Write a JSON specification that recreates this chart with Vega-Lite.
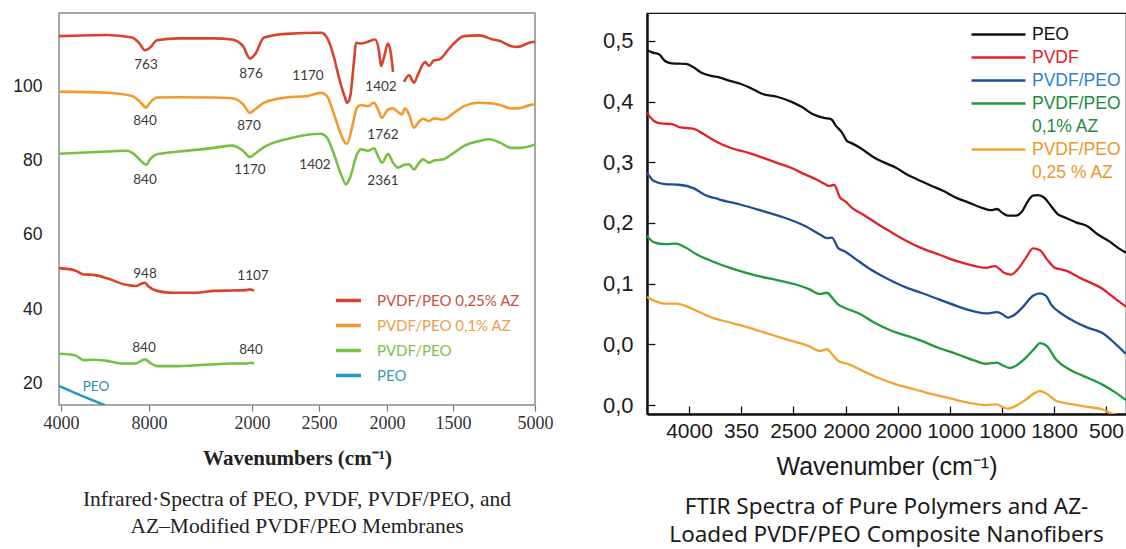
{
  "$schema": "https://vega.github.io/schema/vega-lite/v6.json",
  "background": "white",
  "padding": {"left": 12, "top": 12, "right": 0, "bottom": 0},
  "spacing": 112,
  "bounds": "flush",
  "config": {"view": {"stroke": null}, "legend": {"padding": 0}},
  "resolve": {"scale": {"color": "independent", "x": "independent", "y": "independent"}, "legend": {"color": "independent"}},
  "datasets": {
    "left": [
      {"x":0,"v":113.4,"s":"PVDF/PEO 0,25% AZ","g":"r1"},{"x":48,"v":113.7,"s":"PVDF/PEO 0,25% AZ","g":"r1"},{"x":73,"v":113.0,"s":"PVDF/PEO 0,25% AZ","g":"r1"},{"x":80,"v":111.6,"s":"PVDF/PEO 0,25% AZ","g":"r1"},{"x":86,"v":109.6,"s":"PVDF/PEO 0,25% AZ","g":"r1"},{"x":91,"v":110.3,"s":"PVDF/PEO 0,25% AZ","g":"r1"},{"x":98,"v":112.3,"s":"PVDF/PEO 0,25% AZ","g":"r1"},{"x":120,"v":112.8,"s":"PVDF/PEO 0,25% AZ","g":"r1"},{"x":155,"v":112.8,"s":"PVDF/PEO 0,25% AZ","g":"r1"},{"x":173,"v":112.5,"s":"PVDF/PEO 0,25% AZ","g":"r1"},{"x":184,"v":110.7,"s":"PVDF/PEO 0,25% AZ","g":"r1"},{"x":191,"v":107.4,"s":"PVDF/PEO 0,25% AZ","g":"r1"},{"x":196,"v":108.5,"s":"PVDF/PEO 0,25% AZ","g":"r1"},{"x":205,"v":113.0,"s":"PVDF/PEO 0,25% AZ","g":"r1"},{"x":227,"v":114.0,"s":"PVDF/PEO 0,25% AZ","g":"r1"},{"x":262,"v":114.3,"s":"PVDF/PEO 0,25% AZ","g":"r1"},{"x":268,"v":113.0,"s":"PVDF/PEO 0,25% AZ","g":"r1"},{"x":275,"v":107.7,"s":"PVDF/PEO 0,25% AZ","g":"r1"},{"x":280,"v":102.2,"s":"PVDF/PEO 0,25% AZ","g":"r1"},{"x":286,"v":96.9,"s":"PVDF/PEO 0,25% AZ","g":"r1"},{"x":288,"v":95.5,"s":"PVDF/PEO 0,25% AZ","g":"r1"},{"x":291,"v":96.9,"s":"PVDF/PEO 0,25% AZ","g":"r1"},{"x":295,"v":106.7,"s":"PVDF/PEO 0,25% AZ","g":"r1"},{"x":297,"v":111.6,"s":"PVDF/PEO 0,25% AZ","g":"r1"},{"x":302,"v":111.4,"s":"PVDF/PEO 0,25% AZ","g":"r1"},{"x":309,"v":111.9,"s":"PVDF/PEO 0,25% AZ","g":"r1"},{"x":316,"v":112.5,"s":"PVDF/PEO 0,25% AZ","g":"r1"},{"x":320,"v":109.4,"s":"PVDF/PEO 0,25% AZ","g":"r1"},{"x":322,"v":105.4,"s":"PVDF/PEO 0,25% AZ","g":"r1"},{"x":325,"v":107.7,"s":"PVDF/PEO 0,25% AZ","g":"r1"},{"x":329,"v":111.4,"s":"PVDF/PEO 0,25% AZ","g":"r1"},{"x":332,"v":108.5,"s":"PVDF/PEO 0,25% AZ","g":"r1"},{"x":334,"v":103.8,"s":"PVDF/PEO 0,25% AZ","g":"r1"},
      {"x":345,"v":101.1,"s":"PVDF/PEO 0,25% AZ","g":"r2"},{"x":350,"v":102.9,"s":"PVDF/PEO 0,25% AZ","g":"r2"},{"x":355,"v":100.9,"s":"PVDF/PEO 0,25% AZ","g":"r2"},{"x":359,"v":103.1,"s":"PVDF/PEO 0,25% AZ","g":"r2"},{"x":366,"v":106.4,"s":"PVDF/PEO 0,25% AZ","g":"r2"},{"x":370,"v":105.4,"s":"PVDF/PEO 0,25% AZ","g":"r2"},{"x":375,"v":106.9,"s":"PVDF/PEO 0,25% AZ","g":"r2"},{"x":380,"v":107.1,"s":"PVDF/PEO 0,25% AZ","g":"r2"},{"x":391,"v":110.3,"s":"PVDF/PEO 0,25% AZ","g":"r2"},{"x":405,"v":113.4,"s":"PVDF/PEO 0,25% AZ","g":"r2"},{"x":420,"v":113.6,"s":"PVDF/PEO 0,25% AZ","g":"r2"},{"x":434,"v":112.5,"s":"PVDF/PEO 0,25% AZ","g":"r2"},{"x":441,"v":112.1,"s":"PVDF/PEO 0,25% AZ","g":"r2"},{"x":452,"v":110.7,"s":"PVDF/PEO 0,25% AZ","g":"r2"},{"x":459,"v":110.5,"s":"PVDF/PEO 0,25% AZ","g":"r2"},{"x":470,"v":111.6,"s":"PVDF/PEO 0,25% AZ","g":"r2"},{"x":476,"v":111.9,"s":"PVDF/PEO 0,25% AZ","g":"r2"},
      {"x":0,"v":51.1,"s":"PVDF/PEO 0,25% AZ","g":"r3"},{"x":16,"v":50.5,"s":"PVDF/PEO 0,25% AZ","g":"r3"},{"x":25,"v":49.4,"s":"PVDF/PEO 0,25% AZ","g":"r3"},{"x":34,"v":49.3,"s":"PVDF/PEO 0,25% AZ","g":"r3"},{"x":48,"v":48.4,"s":"PVDF/PEO 0,25% AZ","g":"r3"},{"x":66,"v":46.7,"s":"PVDF/PEO 0,25% AZ","g":"r3"},{"x":77,"v":46.3,"s":"PVDF/PEO 0,25% AZ","g":"r3"},{"x":82,"v":46.9,"s":"PVDF/PEO 0,25% AZ","g":"r3"},{"x":86,"v":47.2,"s":"PVDF/PEO 0,25% AZ","g":"r3"},{"x":89,"v":46.3,"s":"PVDF/PEO 0,25% AZ","g":"r3"},{"x":98,"v":45.0,"s":"PVDF/PEO 0,25% AZ","g":"r3"},{"x":112,"v":44.5,"s":"PVDF/PEO 0,25% AZ","g":"r3"},{"x":137,"v":44.5,"s":"PVDF/PEO 0,25% AZ","g":"r3"},{"x":155,"v":45.0,"s":"PVDF/PEO 0,25% AZ","g":"r3"},{"x":173,"v":45.1,"s":"PVDF/PEO 0,25% AZ","g":"r3"},{"x":187,"v":45.2,"s":"PVDF/PEO 0,25% AZ","g":"r3"},{"x":191,"v":45.4,"s":"PVDF/PEO 0,25% AZ","g":"r3"},{"x":195,"v":45.0,"s":"PVDF/PEO 0,25% AZ","g":"r3"},
      {"x":0,"v":98.5,"s":"PVDF/PEO 0,1% AZ","g":"o1"},{"x":48,"v":98.2,"s":"PVDF/PEO 0,1% AZ","g":"o1"},{"x":73,"v":97.3,"s":"PVDF/PEO 0,1% AZ","g":"o1"},{"x":82,"v":95.5,"s":"PVDF/PEO 0,1% AZ","g":"o1"},{"x":87,"v":94.2,"s":"PVDF/PEO 0,1% AZ","g":"o1"},{"x":91,"v":95.5,"s":"PVDF/PEO 0,1% AZ","g":"o1"},{"x":98,"v":96.9,"s":"PVDF/PEO 0,1% AZ","g":"o1"},{"x":120,"v":97.0,"s":"PVDF/PEO 0,1% AZ","g":"o1"},{"x":155,"v":96.9,"s":"PVDF/PEO 0,1% AZ","g":"o1"},{"x":173,"v":96.7,"s":"PVDF/PEO 0,1% AZ","g":"o1"},{"x":184,"v":95.1,"s":"PVDF/PEO 0,1% AZ","g":"o1"},{"x":191,"v":92.8,"s":"PVDF/PEO 0,1% AZ","g":"o1"},{"x":196,"v":93.7,"s":"PVDF/PEO 0,1% AZ","g":"o1"},{"x":205,"v":95.5,"s":"PVDF/PEO 0,1% AZ","g":"o1"},{"x":227,"v":96.9,"s":"PVDF/PEO 0,1% AZ","g":"o1"},{"x":248,"v":97.3,"s":"PVDF/PEO 0,1% AZ","g":"o1"},{"x":262,"v":98.2,"s":"PVDF/PEO 0,1% AZ","g":"o1"},{"x":268,"v":97.3,"s":"PVDF/PEO 0,1% AZ","g":"o1"},{"x":275,"v":92.4,"s":"PVDF/PEO 0,1% AZ","g":"o1"},{"x":282,"v":87.0,"s":"PVDF/PEO 0,1% AZ","g":"o1"},{"x":286,"v":84.8,"s":"PVDF/PEO 0,1% AZ","g":"o1"},{"x":288,"v":84.5,"s":"PVDF/PEO 0,1% AZ","g":"o1"},{"x":293,"v":88.8,"s":"PVDF/PEO 0,1% AZ","g":"o1"},{"x":298,"v":94.2,"s":"PVDF/PEO 0,1% AZ","g":"o1"},{"x":302,"v":94.9,"s":"PVDF/PEO 0,1% AZ","g":"o1"},{"x":309,"v":94.6,"s":"PVDF/PEO 0,1% AZ","g":"o1"},{"x":315,"v":95.5,"s":"PVDF/PEO 0,1% AZ","g":"o1"},{"x":319,"v":93.7,"s":"PVDF/PEO 0,1% AZ","g":"o1"},{"x":323,"v":91.5,"s":"PVDF/PEO 0,1% AZ","g":"o1"},{"x":329,"v":93.7,"s":"PVDF/PEO 0,1% AZ","g":"o1"},{"x":334,"v":94.0,"s":"PVDF/PEO 0,1% AZ","g":"o1"},{"x":339,"v":93.0,"s":"PVDF/PEO 0,1% AZ","g":"o1"},{"x":343,"v":92.4,"s":"PVDF/PEO 0,1% AZ","g":"o1"},{"x":346,"v":94.0,"s":"PVDF/PEO 0,1% AZ","g":"o1"},{"x":350,"v":92.4,"s":"PVDF/PEO 0,1% AZ","g":"o1"},{"x":355,"v":88.8,"s":"PVDF/PEO 0,1% AZ","g":"o1"},{"x":359,"v":90.1,"s":"PVDF/PEO 0,1% AZ","g":"o1"},{"x":364,"v":91.2,"s":"PVDF/PEO 0,1% AZ","g":"o1"},{"x":370,"v":90.6,"s":"PVDF/PEO 0,1% AZ","g":"o1"},{"x":375,"v":91.3,"s":"PVDF/PEO 0,1% AZ","g":"o1"},{"x":384,"v":91.0,"s":"PVDF/PEO 0,1% AZ","g":"o1"},{"x":395,"v":92.8,"s":"PVDF/PEO 0,1% AZ","g":"o1"},{"x":405,"v":94.6,"s":"PVDF/PEO 0,1% AZ","g":"o1"},{"x":420,"v":95.5,"s":"PVDF/PEO 0,1% AZ","g":"o1"},{"x":434,"v":95.3,"s":"PVDF/PEO 0,1% AZ","g":"o1"},{"x":441,"v":94.9,"s":"PVDF/PEO 0,1% AZ","g":"o1"},{"x":452,"v":94.0,"s":"PVDF/PEO 0,1% AZ","g":"o1"},{"x":459,"v":94.0,"s":"PVDF/PEO 0,1% AZ","g":"o1"},{"x":470,"v":94.8,"s":"PVDF/PEO 0,1% AZ","g":"o1"},{"x":476,"v":95.1,"s":"PVDF/PEO 0,1% AZ","g":"o1"},
      {"x":0,"v":81.8,"s":"PVDF/PEO","g":"g1"},{"x":48,"v":82.4,"s":"PVDF/PEO","g":"g1"},{"x":68,"v":82.6,"s":"PVDF/PEO","g":"g1"},{"x":75,"v":81.7,"s":"PVDF/PEO","g":"g1"},{"x":82,"v":79.9,"s":"PVDF/PEO","g":"g1"},{"x":87,"v":78.8,"s":"PVDF/PEO","g":"g1"},{"x":91,"v":80.3,"s":"PVDF/PEO","g":"g1"},{"x":98,"v":81.7,"s":"PVDF/PEO","g":"g1"},{"x":120,"v":82.4,"s":"PVDF/PEO","g":"g1"},{"x":155,"v":83.4,"s":"PVDF/PEO","g":"g1"},{"x":173,"v":84.0,"s":"PVDF/PEO","g":"g1"},{"x":184,"v":82.6,"s":"PVDF/PEO","g":"g1"},{"x":191,"v":80.9,"s":"PVDF/PEO","g":"g1"},{"x":196,"v":81.8,"s":"PVDF/PEO","g":"g1"},{"x":205,"v":83.6,"s":"PVDF/PEO","g":"g1"},{"x":227,"v":85.7,"s":"PVDF/PEO","g":"g1"},{"x":245,"v":86.8,"s":"PVDF/PEO","g":"g1"},{"x":262,"v":87.2,"s":"PVDF/PEO","g":"g1"},{"x":268,"v":86.1,"s":"PVDF/PEO","g":"g1"},{"x":275,"v":81.7,"s":"PVDF/PEO","g":"g1"},{"x":282,"v":76.3,"s":"PVDF/PEO","g":"g1"},{"x":287,"v":73.6,"s":"PVDF/PEO","g":"g1"},{"x":291,"v":75.4,"s":"PVDF/PEO","g":"g1"},{"x":298,"v":81.7,"s":"PVDF/PEO","g":"g1"},{"x":302,"v":83.0,"s":"PVDF/PEO","g":"g1"},{"x":309,"v":82.6,"s":"PVDF/PEO","g":"g1"},{"x":315,"v":83.3,"s":"PVDF/PEO","g":"g1"},{"x":319,"v":81.2,"s":"PVDF/PEO","g":"g1"},{"x":323,"v":79.4,"s":"PVDF/PEO","g":"g1"},{"x":329,"v":81.7,"s":"PVDF/PEO","g":"g1"},{"x":334,"v":79.4,"s":"PVDF/PEO","g":"g1"},{"x":339,"v":78.1,"s":"PVDF/PEO","g":"g1"},{"x":345,"v":78.8,"s":"PVDF/PEO","g":"g1"},{"x":350,"v":79.0,"s":"PVDF/PEO","g":"g1"},{"x":355,"v":77.6,"s":"PVDF/PEO","g":"g1"},{"x":359,"v":79.0,"s":"PVDF/PEO","g":"g1"},{"x":364,"v":80.3,"s":"PVDF/PEO","g":"g1"},{"x":370,"v":79.4,"s":"PVDF/PEO","g":"g1"},{"x":375,"v":80.0,"s":"PVDF/PEO","g":"g1"},{"x":384,"v":80.3,"s":"PVDF/PEO","g":"g1"},{"x":395,"v":82.1,"s":"PVDF/PEO","g":"g1"},{"x":405,"v":83.9,"s":"PVDF/PEO","g":"g1"},{"x":420,"v":85.2,"s":"PVDF/PEO","g":"g1"},{"x":430,"v":85.7,"s":"PVDF/PEO","g":"g1"},{"x":441,"v":84.8,"s":"PVDF/PEO","g":"g1"},{"x":452,"v":83.4,"s":"PVDF/PEO","g":"g1"},{"x":462,"v":83.4,"s":"PVDF/PEO","g":"g1"},{"x":476,"v":84.3,"s":"PVDF/PEO","g":"g1"},
      {"x":0,"v":28.1,"s":"PVDF/PEO","g":"g2"},{"x":16,"v":27.7,"s":"PVDF/PEO","g":"g2"},{"x":25,"v":26.4,"s":"PVDF/PEO","g":"g2"},{"x":34,"v":26.5,"s":"PVDF/PEO","g":"g2"},{"x":48,"v":26.2,"s":"PVDF/PEO","g":"g2"},{"x":62,"v":25.5,"s":"PVDF/PEO","g":"g2"},{"x":77,"v":25.5,"s":"PVDF/PEO","g":"g2"},{"x":82,"v":26.2,"s":"PVDF/PEO","g":"g2"},{"x":86,"v":26.6,"s":"PVDF/PEO","g":"g2"},{"x":91,"v":25.7,"s":"PVDF/PEO","g":"g2"},{"x":98,"v":24.8,"s":"PVDF/PEO","g":"g2"},{"x":120,"v":24.8,"s":"PVDF/PEO","g":"g2"},{"x":155,"v":25.3,"s":"PVDF/PEO","g":"g2"},{"x":173,"v":25.5,"s":"PVDF/PEO","g":"g2"},{"x":187,"v":25.5,"s":"PVDF/PEO","g":"g2"},{"x":191,"v":25.7,"s":"PVDF/PEO","g":"g2"},{"x":195,"v":25.5,"s":"PVDF/PEO","g":"g2"},
      {"x":0,"v":19.5,"s":"PEO","g":"p1"},{"x":23,"v":16.8,"s":"PEO","g":"p1"},{"x":46,"v":14.3,"s":"PEO","g":"p1"}
    ],
    "leftlab": [
      {"x":87,"v":105.6,"t":"763"},{"x":192,"v":103.3,"t":"876"},{"x":249,"v":102.7,"t":"1170"},{"x":322,"v":99.7,"t":"1402"},
      {"x":86,"v":90.6,"t":"840"},{"x":190,"v":89.3,"t":"870"},{"x":324,"v":86.8,"t":"1762"},
      {"x":86,"v":74.8,"t":"840"},{"x":191,"v":77.4,"t":"1170"},{"x":256,"v":78.8,"t":"1402"},{"x":324,"v":74.5,"t":"2361"},
      {"x":86,"v":49.6,"t":"948"},{"x":194,"v":49.0,"t":"1107"},
      {"x":85,"v":29.6,"t":"840"},{"x":192,"v":29.0,"t":"840"},
      {"x":37,"v":19.2,"t":"PEO"}
    ],
    "right": [
      {"x":0,"v":0.485,"s":"PEO"},{"x":5,"v":0.481,"s":"PEO"},{"x":12,"v":0.478,"s":"PEO"},{"x":18,"v":0.467,"s":"PEO"},{"x":25,"v":0.463,"s":"PEO"},{"x":39,"v":0.462,"s":"PEO"},{"x":47,"v":0.456,"s":"PEO"},{"x":54,"v":0.448,"s":"PEO"},{"x":65,"v":0.442,"s":"PEO"},{"x":72,"v":0.440,"s":"PEO"},{"x":83,"v":0.434,"s":"PEO"},{"x":94,"v":0.429,"s":"PEO"},{"x":104,"v":0.422,"s":"PEO"},{"x":115,"v":0.413,"s":"PEO"},{"x":130,"v":0.408,"s":"PEO"},{"x":144,"v":0.400,"s":"PEO"},{"x":155,"v":0.391,"s":"PEO"},{"x":166,"v":0.379,"s":"PEO"},{"x":177,"v":0.373,"s":"PEO"},{"x":184,"v":0.371,"s":"PEO"},{"x":189,"v":0.360,"s":"PEO"},{"x":195,"v":0.349,"s":"PEO"},{"x":200,"v":0.335,"s":"PEO"},{"x":204,"v":0.332,"s":"PEO"},{"x":213,"v":0.324,"s":"PEO"},{"x":227,"v":0.308,"s":"PEO"},{"x":238,"v":0.299,"s":"PEO"},{"x":249,"v":0.291,"s":"PEO"},{"x":260,"v":0.280,"s":"PEO"},{"x":270,"v":0.272,"s":"PEO"},{"x":285,"v":0.261,"s":"PEO"},{"x":296,"v":0.253,"s":"PEO"},{"x":310,"v":0.241,"s":"PEO"},{"x":321,"v":0.234,"s":"PEO"},{"x":335,"v":0.225,"s":"PEO"},{"x":344,"v":0.221,"s":"PEO"},{"x":350,"v":0.223,"s":"PEO"},{"x":355,"v":0.217,"s":"PEO"},{"x":361,"v":0.212,"s":"PEO"},{"x":369,"v":0.212,"s":"PEO"},{"x":375,"v":0.219,"s":"PEO"},{"x":381,"v":0.236,"s":"PEO"},{"x":386,"v":0.245,"s":"PEO"},{"x":391,"v":0.246,"s":"PEO"},{"x":397,"v":0.242,"s":"PEO"},{"x":404,"v":0.228,"s":"PEO"},{"x":411,"v":0.214,"s":"PEO"},{"x":418,"v":0.209,"s":"PEO"},{"x":429,"v":0.201,"s":"PEO"},{"x":440,"v":0.195,"s":"PEO"},{"x":451,"v":0.181,"s":"PEO"},{"x":462,"v":0.170,"s":"PEO"},{"x":471,"v":0.159,"s":"PEO"},{"x":479,"v":0.151,"s":"PEO"},
      {"x":0,"v":0.382,"s":"PVDF"},{"x":7,"v":0.368,"s":"PVDF"},{"x":14,"v":0.364,"s":"PVDF"},{"x":25,"v":0.363,"s":"PVDF"},{"x":32,"v":0.358,"s":"PVDF"},{"x":47,"v":0.355,"s":"PVDF"},{"x":57,"v":0.346,"s":"PVDF"},{"x":68,"v":0.335,"s":"PVDF"},{"x":83,"v":0.324,"s":"PVDF"},{"x":101,"v":0.316,"s":"PVDF"},{"x":115,"v":0.308,"s":"PVDF"},{"x":130,"v":0.299,"s":"PVDF"},{"x":144,"v":0.291,"s":"PVDF"},{"x":158,"v":0.280,"s":"PVDF"},{"x":169,"v":0.272,"s":"PVDF"},{"x":177,"v":0.265,"s":"PVDF"},{"x":182,"v":0.261,"s":"PVDF"},{"x":187,"v":0.263,"s":"PVDF"},{"x":193,"v":0.242,"s":"PVDF"},{"x":198,"v":0.236,"s":"PVDF"},{"x":205,"v":0.225,"s":"PVDF"},{"x":216,"v":0.214,"s":"PVDF"},{"x":231,"v":0.198,"s":"PVDF"},{"x":242,"v":0.187,"s":"PVDF"},{"x":260,"v":0.170,"s":"PVDF"},{"x":274,"v":0.159,"s":"PVDF"},{"x":292,"v":0.148,"s":"PVDF"},{"x":310,"v":0.137,"s":"PVDF"},{"x":328,"v":0.129,"s":"PVDF"},{"x":339,"v":0.126,"s":"PVDF"},{"x":348,"v":0.129,"s":"PVDF"},{"x":357,"v":0.118,"s":"PVDF"},{"x":364,"v":0.115,"s":"PVDF"},{"x":371,"v":0.124,"s":"PVDF"},{"x":379,"v":0.143,"s":"PVDF"},{"x":386,"v":0.158,"s":"PVDF"},{"x":393,"v":0.155,"s":"PVDF"},{"x":400,"v":0.140,"s":"PVDF"},{"x":408,"v":0.126,"s":"PVDF"},{"x":418,"v":0.122,"s":"PVDF"},{"x":436,"v":0.107,"s":"PVDF"},{"x":455,"v":0.092,"s":"PVDF"},{"x":469,"v":0.074,"s":"PVDF"},{"x":479,"v":0.062,"s":"PVDF"},
      {"x":0,"v":0.283,"s":"PVDF/PEO"},{"x":7,"v":0.269,"s":"PVDF/PEO"},{"x":18,"v":0.264,"s":"PVDF/PEO"},{"x":32,"v":0.263,"s":"PVDF/PEO"},{"x":47,"v":0.257,"s":"PVDF/PEO"},{"x":57,"v":0.247,"s":"PVDF/PEO"},{"x":72,"v":0.239,"s":"PVDF/PEO"},{"x":94,"v":0.230,"s":"PVDF/PEO"},{"x":115,"v":0.220,"s":"PVDF/PEO"},{"x":137,"v":0.209,"s":"PVDF/PEO"},{"x":158,"v":0.195,"s":"PVDF/PEO"},{"x":173,"v":0.181,"s":"PVDF/PEO"},{"x":180,"v":0.175,"s":"PVDF/PEO"},{"x":185,"v":0.176,"s":"PVDF/PEO"},{"x":191,"v":0.159,"s":"PVDF/PEO"},{"x":198,"v":0.153,"s":"PVDF/PEO"},{"x":209,"v":0.140,"s":"PVDF/PEO"},{"x":223,"v":0.124,"s":"PVDF/PEO"},{"x":238,"v":0.110,"s":"PVDF/PEO"},{"x":260,"v":0.093,"s":"PVDF/PEO"},{"x":274,"v":0.085,"s":"PVDF/PEO"},{"x":292,"v":0.074,"s":"PVDF/PEO"},{"x":310,"v":0.063,"s":"PVDF/PEO"},{"x":328,"v":0.054,"s":"PVDF/PEO"},{"x":339,"v":0.051,"s":"PVDF/PEO"},{"x":350,"v":0.053,"s":"PVDF/PEO"},{"x":355,"v":0.050,"s":"PVDF/PEO"},{"x":361,"v":0.044,"s":"PVDF/PEO"},{"x":366,"v":0.047,"s":"PVDF/PEO"},{"x":375,"v":0.060,"s":"PVDF/PEO"},{"x":386,"v":0.080,"s":"PVDF/PEO"},{"x":393,"v":0.084,"s":"PVDF/PEO"},{"x":399,"v":0.080,"s":"PVDF/PEO"},{"x":404,"v":0.066,"s":"PVDF/PEO"},{"x":415,"v":0.050,"s":"PVDF/PEO"},{"x":426,"v":0.039,"s":"PVDF/PEO"},{"x":440,"v":0.028,"s":"PVDF/PEO"},{"x":455,"v":0.019,"s":"PVDF/PEO"},{"x":469,"v":0.000,"s":"PVDF/PEO"},{"x":479,"v":-0.016,"s":"PVDF/PEO"},
      {"x":0,"v":0.179,"s":"PVDF/PEO 0,1% AZ"},{"x":7,"v":0.168,"s":"PVDF/PEO 0,1% AZ"},{"x":18,"v":0.165,"s":"PVDF/PEO 0,1% AZ"},{"x":29,"v":0.166,"s":"PVDF/PEO 0,1% AZ"},{"x":39,"v":0.159,"s":"PVDF/PEO 0,1% AZ"},{"x":50,"v":0.148,"s":"PVDF/PEO 0,1% AZ"},{"x":65,"v":0.137,"s":"PVDF/PEO 0,1% AZ"},{"x":83,"v":0.126,"s":"PVDF/PEO 0,1% AZ"},{"x":101,"v":0.117,"s":"PVDF/PEO 0,1% AZ"},{"x":115,"v":0.111,"s":"PVDF/PEO 0,1% AZ"},{"x":130,"v":0.106,"s":"PVDF/PEO 0,1% AZ"},{"x":148,"v":0.099,"s":"PVDF/PEO 0,1% AZ"},{"x":162,"v":0.091,"s":"PVDF/PEO 0,1% AZ"},{"x":173,"v":0.083,"s":"PVDF/PEO 0,1% AZ"},{"x":180,"v":0.085,"s":"PVDF/PEO 0,1% AZ"},{"x":185,"v":0.077,"s":"PVDF/PEO 0,1% AZ"},{"x":191,"v":0.066,"s":"PVDF/PEO 0,1% AZ"},{"x":198,"v":0.060,"s":"PVDF/PEO 0,1% AZ"},{"x":213,"v":0.050,"s":"PVDF/PEO 0,1% AZ"},{"x":227,"v":0.036,"s":"PVDF/PEO 0,1% AZ"},{"x":245,"v":0.022,"s":"PVDF/PEO 0,1% AZ"},{"x":260,"v":0.014,"s":"PVDF/PEO 0,1% AZ"},{"x":274,"v":0.006,"s":"PVDF/PEO 0,1% AZ"},{"x":292,"v":-0.006,"s":"PVDF/PEO 0,1% AZ"},{"x":310,"v":-0.016,"s":"PVDF/PEO 0,1% AZ"},{"x":328,"v":-0.027,"s":"PVDF/PEO 0,1% AZ"},{"x":339,"v":-0.032,"s":"PVDF/PEO 0,1% AZ"},{"x":350,"v":-0.030,"s":"PVDF/PEO 0,1% AZ"},{"x":355,"v":-0.034,"s":"PVDF/PEO 0,1% AZ"},{"x":363,"v":-0.039,"s":"PVDF/PEO 0,1% AZ"},{"x":368,"v":-0.036,"s":"PVDF/PEO 0,1% AZ"},{"x":379,"v":-0.022,"s":"PVDF/PEO 0,1% AZ"},{"x":388,"v":-0.006,"s":"PVDF/PEO 0,1% AZ"},{"x":393,"v":0.002,"s":"PVDF/PEO 0,1% AZ"},{"x":400,"v":-0.003,"s":"PVDF/PEO 0,1% AZ"},{"x":409,"v":-0.025,"s":"PVDF/PEO 0,1% AZ"},{"x":422,"v":-0.041,"s":"PVDF/PEO 0,1% AZ"},{"x":436,"v":-0.052,"s":"PVDF/PEO 0,1% AZ"},{"x":455,"v":-0.066,"s":"PVDF/PEO 0,1% AZ"},{"x":469,"v":-0.080,"s":"PVDF/PEO 0,1% AZ"},{"x":479,"v":-0.092,"s":"PVDF/PEO 0,1% AZ"},
      {"x":0,"v":0.078,"s":"PVDF/PEO 0,25 % AZ"},{"x":7,"v":0.072,"s":"PVDF/PEO 0,25 % AZ"},{"x":18,"v":0.067,"s":"PVDF/PEO 0,25 % AZ"},{"x":29,"v":0.067,"s":"PVDF/PEO 0,25 % AZ"},{"x":39,"v":0.063,"s":"PVDF/PEO 0,25 % AZ"},{"x":50,"v":0.055,"s":"PVDF/PEO 0,25 % AZ"},{"x":65,"v":0.044,"s":"PVDF/PEO 0,25 % AZ"},{"x":83,"v":0.036,"s":"PVDF/PEO 0,25 % AZ"},{"x":101,"v":0.028,"s":"PVDF/PEO 0,25 % AZ"},{"x":122,"v":0.017,"s":"PVDF/PEO 0,25 % AZ"},{"x":144,"v":0.006,"s":"PVDF/PEO 0,25 % AZ"},{"x":162,"v":-0.003,"s":"PVDF/PEO 0,25 % AZ"},{"x":173,"v":-0.011,"s":"PVDF/PEO 0,25 % AZ"},{"x":180,"v":-0.008,"s":"PVDF/PEO 0,25 % AZ"},{"x":185,"v":-0.016,"s":"PVDF/PEO 0,25 % AZ"},{"x":191,"v":-0.027,"s":"PVDF/PEO 0,25 % AZ"},{"x":202,"v":-0.033,"s":"PVDF/PEO 0,25 % AZ"},{"x":216,"v":-0.044,"s":"PVDF/PEO 0,25 % AZ"},{"x":231,"v":-0.055,"s":"PVDF/PEO 0,25 % AZ"},{"x":249,"v":-0.066,"s":"PVDF/PEO 0,25 % AZ"},{"x":267,"v":-0.074,"s":"PVDF/PEO 0,25 % AZ"},{"x":285,"v":-0.082,"s":"PVDF/PEO 0,25 % AZ"},{"x":303,"v":-0.089,"s":"PVDF/PEO 0,25 % AZ"},{"x":321,"v":-0.096,"s":"PVDF/PEO 0,25 % AZ"},{"x":339,"v":-0.100,"s":"PVDF/PEO 0,25 % AZ"},{"x":350,"v":-0.099,"s":"PVDF/PEO 0,25 % AZ"},{"x":355,"v":-0.103,"s":"PVDF/PEO 0,25 % AZ"},{"x":361,"v":-0.106,"s":"PVDF/PEO 0,25 % AZ"},{"x":368,"v":-0.102,"s":"PVDF/PEO 0,25 % AZ"},{"x":379,"v":-0.091,"s":"PVDF/PEO 0,25 % AZ"},{"x":388,"v":-0.080,"s":"PVDF/PEO 0,25 % AZ"},{"x":393,"v":-0.077,"s":"PVDF/PEO 0,25 % AZ"},{"x":400,"v":-0.082,"s":"PVDF/PEO 0,25 % AZ"},{"x":409,"v":-0.093,"s":"PVDF/PEO 0,25 % AZ"},{"x":426,"v":-0.099,"s":"PVDF/PEO 0,25 % AZ"},{"x":440,"v":-0.103,"s":"PVDF/PEO 0,25 % AZ"},{"x":455,"v":-0.107,"s":"PVDF/PEO 0,25 % AZ"},{"x":466,"v":-0.115,"s":"PVDF/PEO 0,25 % AZ"},{"x":479,"v":-0.118,"s":"PVDF/PEO 0,25 % AZ"}
    ]
  },
  "hconcat": [
    {
      "width": 476,
      "height": 392,
      "view": {"stroke": "#8a8a8a", "strokeWidth": 1.5},
      "title": {"text": ["Infrared·Spectra of PEO, PVDF, PVDF/PEO, and", "AZ–Modified PVDF/PEO Membranes"], "orient": "bottom", "anchor": "middle", "font": "Liberation Serif", "fontSize": 21.5, "fontWeight": "normal", "color": "#222222", "lineHeight": 27, "offset": 21},
      "layer": [
        {
          "data": {"name": "left"},
          "mark": {"type": "line", "strokeWidth": 2.6, "interpolate": "monotone", "clip": true},
          "encoding": {
            "x": {"field": "x", "type": "quantitative", "scale": {"domain": [0, 476], "nice": false, "zero": false},
              "axis": {"values": [2, 90, 193, 260, 328, 394, 476], "labelExpr": "['4000','8000','2000','2500','2000','1500','5000'][indexof([2,90,193,260,328,394,476], datum.value)]",
                "title": "Wavenumbers (cm⁻¹)", "titleFont": "Liberation Serif", "titleFontSize": 21, "titleFontWeight": "bold", "titleColor": "#222222", "titlePadding": 15,
                "labelFont": "Liberation Serif", "labelFontSize": 18, "labelColor": "#333333", "labelPadding": 3, "labelFlush": false, "labelOverlap": false, "labelBound": false,
                "domain": false, "ticks": true, "tickSize": 6, "tickColor": "#777777", "tickWidth": 1.2, "grid": false}},
            "y": {"field": "v", "type": "quantitative", "scale": {"domain": [14.36, 119.6], "nice": false, "zero": false},
              "axis": {"values": [20, 40, 60, 80, 100], "title": null, "labelFont": "Liberation Sans", "labelFontSize": 17.5, "labelColor": "#222222", "labelPadding": 17, "domain": false, "ticks": false, "grid": false}},
            "color": {"field": "s", "type": "nominal",
              "scale": {"domain": ["PVDF/PEO 0,25% AZ", "PVDF/PEO 0,1% AZ", "PVDF/PEO", "PEO"], "range": ["#d9432c", "#f39a2e", "#77c043", "#1f9ac0"]},
              "legend": {"orient": "none", "legendX": 275, "legendY": 273, "title": null, "symbolType": "stroke", "symbolSize": 625, "symbolStrokeWidth": 3.5,
                "labelFont": "Lato", "labelFontSize": 15, "labelOffset": 14, "rowPadding": 2, "labelLimit": 300,
                "labelColor": {"expr": "datum.value == 'PVDF/PEO 0,25% AZ' ? '#c8503e' : datum.value == 'PVDF/PEO 0,1% AZ' ? '#e9a04d' : datum.value == 'PVDF/PEO' ? '#7dc04f' : '#3a9cbc'"}}},
            "detail": {"field": "g", "type": "nominal"}
          }
        },
        {
          "data": {"name": "leftlab"},
          "mark": {"type": "text", "font": "Lato", "fontSize": 13.5, "align": "center", "baseline": "middle"},
          "encoding": {
            "x": {"field": "x", "type": "quantitative"},
            "y": {"field": "v", "type": "quantitative"},
            "text": {"field": "t"},
            "color": {"condition": {"test": "datum.t == 'PEO'", "value": "#2f8db0"}, "value": "#3a3a3a"}
          }
        }
      ]
    },
    {
      "width": 479,
      "height": 401,
      "view": {"stroke": "#111111", "strokeWidth": 1.2},
      "title": {"text": ["FTIR Spectra of Pure Polymers and AZ-", "Loaded PVDF/PEO Composite Nanofibers"], "orient": "bottom", "anchor": "middle", "font": "Noto Sans", "fontSize": 22.5, "fontWeight": "normal", "color": "#1a1a1a", "lineHeight": 28, "offset": 17},
      "data": {"name": "right"},
      "mark": {"type": "line", "strokeWidth": 2.3, "interpolate": "monotone", "clip": true},
      "encoding": {
        "x": {"field": "x", "type": "quantitative", "scale": {"domain": [0, 479], "nice": false, "zero": false},
          "axis": {"values": [42, 94, 146, 199, 251, 303, 355, 407, 459], "labelExpr": "['4000','350','2500','2000','2000','1000','1000','1800','500'][indexof([42,94,146,199,251,303,355,407,459], datum.value)]",
            "title": "Wavenumber (cm⁻¹)", "titleFont": "Liberation Sans", "titleFontSize": 25, "titleFontWeight": "normal", "titleColor": "#1a1a1a", "titlePadding": 13,
            "labelFont": "Liberation Sans", "labelFontSize": 21, "labelColor": "#1a1a1a", "labelPadding": 14, "labelFlush": false, "labelOverlap": false, "labelBound": false,
            "domain": true, "domainColor": "#111111", "domainWidth": 2.5, "ticks": true, "tickSize": -8, "tickColor": "#111111", "tickWidth": 1.3, "grid": false}},
        "y": {"field": "v", "type": "quantitative", "scale": {"domain": [-0.1148, 0.546], "nice": false, "zero": false},
          "axis": {"values": [0.5, 0.4, 0.3, 0.2, 0.1, 0, -0.1], "labelExpr": "datum.value < -0.05 ? '0,0' : replace(format(datum.value, '.1f'), '.', ',')",
            "title": null, "labelFont": "Liberation Sans", "labelFontSize": 22, "labelColor": "#1a1a1a", "labelPadding": 22,
            "domain": true, "domainColor": "#111111", "domainWidth": 2.5, "ticks": true, "tickSize": -8, "tickColor": "#111111", "tickWidth": 1.3, "grid": false}},
        "color": {"field": "s", "type": "nominal",
          "scale": {"domain": ["PEO", "PVDF", "PVDF/PEO", "PVDF/PEO 0,1% AZ", "0,1% AZ", "PVDF/PEO 0,25 % AZ", "0,25 % AZ"], "range": ["#111111", "#e0222b", "#1f4e96", "#1f9a3f", "transparent", "#f2a52e", "transparent"]},
          "legend": {"orient": "none", "legendX": 341, "legendY": 11, "title": null, "symbolType": "M-3,0H3", "symbolSize": 324, "symbolStrokeWidth": 2.5,
            "labelFont": "Liberation Sans", "labelFontSize": 17.5, "labelOffset": 23, "rowPadding": 4, "labelLimit": 300,
            "labelExpr": "datum.label == 'PVDF/PEO 0,1% AZ' || datum.label == 'PVDF/PEO 0,25 % AZ' ? 'PVDF/PEO' : datum.label",
            "labelColor": {"expr": "datum.value == 'PEO' ? '#111111' : datum.value == 'PVDF' ? '#e4202a' : datum.value == 'PVDF/PEO' ? '#2d7fd2' : (datum.value == 'PVDF/PEO 0,1% AZ' || datum.value == '0,1% AZ') ? '#1c8a3c' : '#e9972a'"}}}
      }
    }
  ]
}
